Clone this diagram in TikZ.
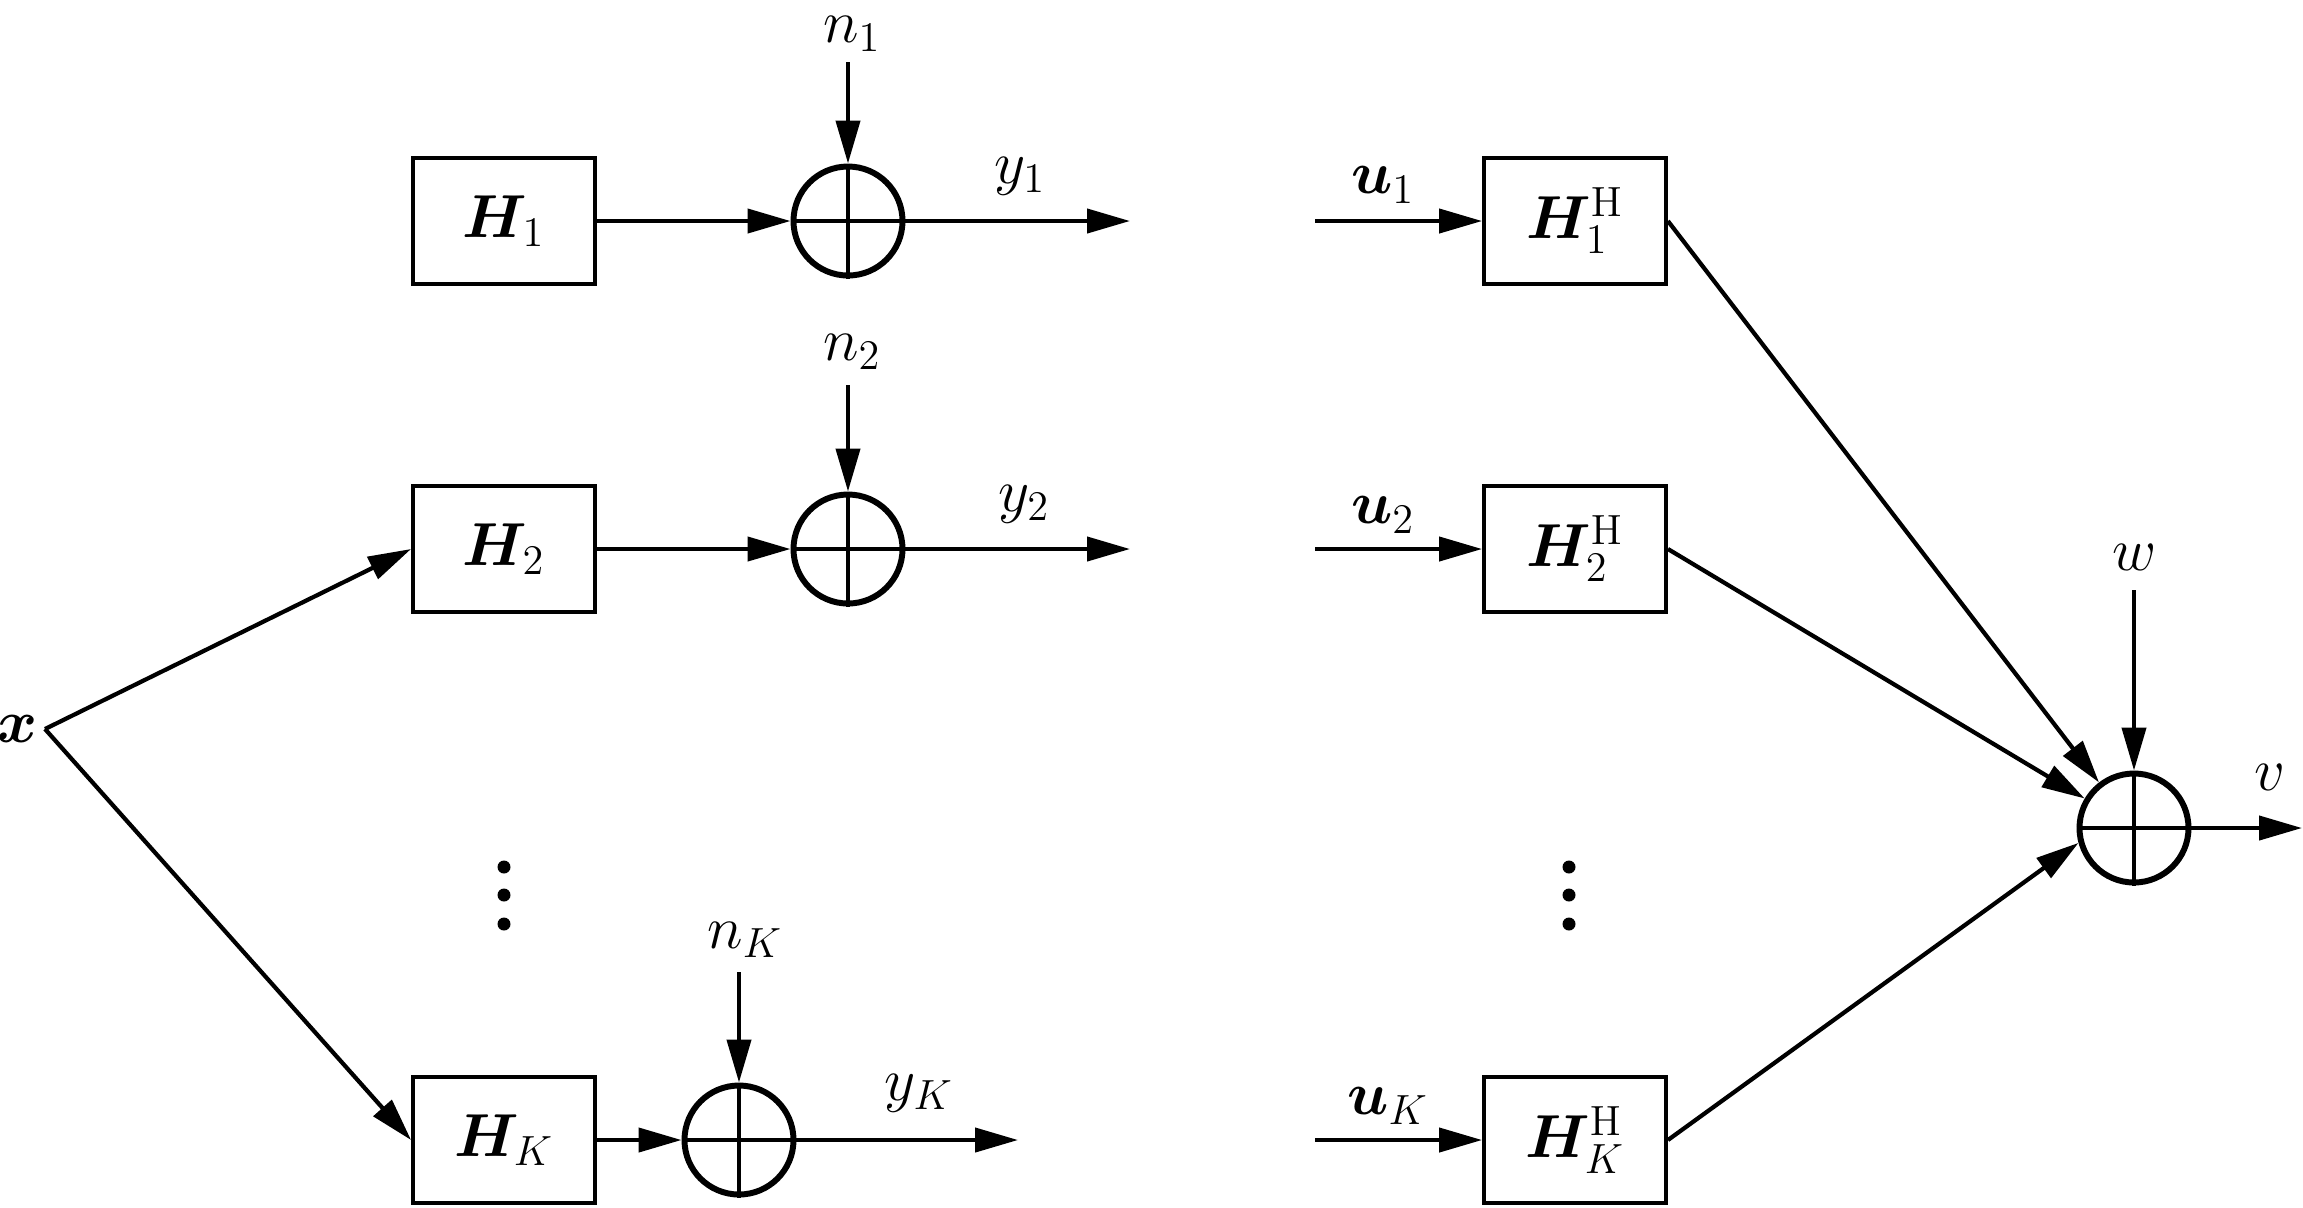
\documentclass[tikz,border=0pt]{standalone}
\usepackage{amsmath}
\usepackage{bm}
\usepackage{tikz}
\usetikzlibrary{arrows.meta, calc}

\begin{document}
\begin{tikzpicture}[x=0.1mm, y=-0.1mm,
	every node/.style={inner sep=.25ex, font=\fontsize{17.28}{20}\selectfont},
	blk/.style={draw, line width=1.1pt, minimum width=18.2mm, minimum height=12.6mm, inner sep=0pt},
	summer/.style={draw, circle, line width=1.7pt, minimum size=10.9mm, inner sep=0pt},
	wire/.style={line width=1.2pt},
	sig/.style={line width=1.2pt, -{Triangle[length=4.3mm, width=2.4mm]}}]
	\useasboundingbox (0,0) rectangle (2303,1207);
	% input
	\coordinate (split) at (45,729);
	\node (xin) at (18,729) {$\bm{x}$};
	% channels
	\node[blk] (H1) at (504,221) {$\bm{H}_1$};
	\node[blk] (H2) at (504,549) {$\bm{H}_2$};
	\node[blk] (HK) at (504,1140) {$\bm{H}_K$};
	\node[summer] (s1) at (848,221) {};
	\node[summer] (s2) at (848,549) {};
	\node[summer] (sK) at (739,1140) {};
	\coordinate (n1) at (848,62);
	\coordinate (n2) at (848,385);
	\coordinate (nK) at (739,972);
	\node[inner sep=0pt] (n1lab) at (852,34) {$n_1$};
	\node (n2lab) at (852,352) {$n_2$};
	\node (nKlab) at (745,940) {$n_K$};
	\coordinate (y1) at (1130,221);
	\coordinate (y2) at (1130,549);
	\coordinate (yK) at (1018,1140);
	\node (y1lab) at (1020,176) {$y_1$};
	\node (y2lab) at (1024,504) {$y_2$};
	\node (yKlab) at (919,1093) {$y_K$};
	\draw[sig] (split) -- (H2.west);
	\draw[sig] (split) -- (HK.west);
	\draw[sig] (H1) -- (s1);
	\draw[sig] (H2) -- (s2);
	\draw[sig] (HK) -- (sK);
	\draw[sig] (n1) -- (s1.north);
	\draw[sig] (n2) -- (s2.north);
	\draw[sig] (nK) -- (sK.north);
	\draw[sig] (s1.east) -- (y1);
	\draw[sig] (s2.east) -- (y2);
	\draw[sig] (sK.east) -- (yK);
	% receiver side
	\node[blk] (G1) at (1575,221) {$\bm{H}_1^{\mathrm{H}}$};
	\node[blk] (G2) at (1575,549) {$\bm{H}_2^{\mathrm{H}}$};
	\node[blk] (GK) at (1575,1140) {$\bm{H}_K^{\mathrm{H}}$};
	\coordinate (u1) at (1315,221);
	\coordinate (u2) at (1315,549);
	\coordinate (uK) at (1315,1140);
	\node (u1lab) at (1383,185) {$\bm{u}_1$};
	\node (u2lab) at (1383,515) {$\bm{u}_2$};
	\node (uKlab) at (1388,1106) {$\bm{u}_K$};
	\draw[sig] (u1) -- (G1);
	\draw[sig] (u2) -- (G2);
	\draw[sig] (uK) -- (GK);
	\node[summer] (sV) at (2134,828) {};
	\coordinate (w) at (2134,590);
	\coordinate (v) at (2302,828);
	\node (wlab) at (2135,557) {$w$};
	\node (vlab) at (2270,777) {$v$};
	\draw[sig] (G1.east) -- (sV);
	\draw[sig] (G2.east) -- (sV);
	\draw[sig] (GK.east) -- (sV.195);
	\draw[sig] (w) -- (sV.north);
	\draw[sig] (sV.east) -- (v);
	% crosses
	\draw[wire] (s1.north) -- (s1.south) (s1.west) -- (s1.east);
	\draw[wire] (s2.north) -- (s2.south) (s2.west) -- (s2.east);
	\draw[wire] (sK.north) -- (sK.south) (sK.west) -- (sK.east);
	\draw[wire] (sV.north) -- (sV.south) (sV.west) -- (sV.east);
	% dots
	\foreach \yy in {867,895,924} {
		\fill (504,\yy) circle (0.65mm);
		\fill (1569,\yy) circle (0.65mm);
	}
\end{tikzpicture}
\end{document}
